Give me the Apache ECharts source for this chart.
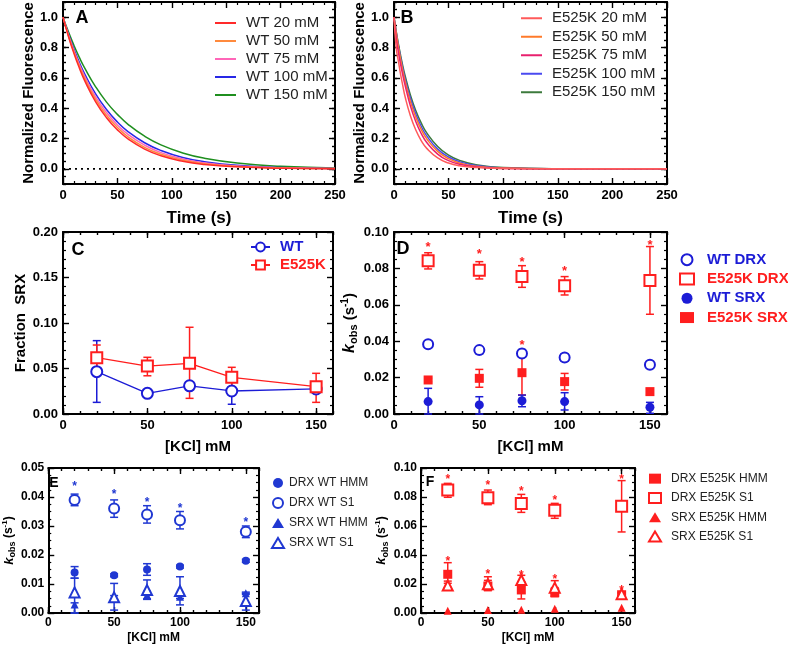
<!DOCTYPE html>
<html><head><meta charset="utf-8">
<script src="https://cdn.jsdelivr.net/npm/echarts@6/dist/echarts.min.js"></script>
<style>html,body{margin:0;padding:0;background:#fff}#c{width:788px;height:646px}</style>
</head><body><div id="c"></div>
<script>
// ---------- DATA ----------
const timeA = [0, 5, 10, 15, 20, 30, 40, 50, 60, 75, 90, 110, 130, 160, 200, 250];
const wt20  = [1.0, 0.873, 0.762, 0.665, 0.580, 0.442, 0.337, 0.257, 0.196, 0.130, 0.086, 0.050, 0.029, 0.013, 0.004, 0.001];
const wt50  = [1.0, 0.878, 0.771, 0.677, 0.595, 0.458, 0.353, 0.273, 0.210, 0.142, 0.096, 0.057, 0.034, 0.016, 0.006, 0.002];
const wt75  = [1.0, 0.883, 0.780, 0.689, 0.609, 0.475, 0.371, 0.289, 0.226, 0.156, 0.107, 0.065, 0.040, 0.019, 0.007, 0.002];
const wt100 = [1.0, 0.889, 0.791, 0.703, 0.625, 0.494, 0.391, 0.309, 0.244, 0.172, 0.121, 0.075, 0.047, 0.023, 0.009, 0.003];
const wt150 = [1.0, 0.903, 0.815, 0.735, 0.664, 0.541, 0.440, 0.359, 0.292, 0.215, 0.158, 0.105, 0.070, 0.038, 0.017, 0.006];

const timeB = [0, 2, 4, 6, 8, 10, 15, 20, 25, 30, 40, 50, 60, 75, 100, 150, 250];
const ek20  = [1.0, 0.80, 0.71, 0.625, 0.55, 0.48, 0.35, 0.255, 0.185, 0.135, 0.072, 0.038, 0.020, 0.008, 0.002, 0, 0];
const ek50  = [1.0, 0.898, 0.806, 0.723, 0.649, 0.583, 0.445, 0.340, 0.259, 0.198, 0.115, 0.067, 0.039, 0.017, 0.005, 0.001, 0];
const ek75  = [1.0, 0.86, 0.77, 0.69, 0.62, 0.555, 0.415, 0.31, 0.232, 0.174, 0.097, 0.054, 0.030, 0.013, 0.003, 0, 0];
const ek100 = [1.0, 0.903, 0.815, 0.736, 0.665, 0.600, 0.465, 0.361, 0.279, 0.217, 0.130, 0.078, 0.047, 0.022, 0.006, 0.001, 0];
const ek150 = [1.0, 0.908, 0.825, 0.750, 0.681, 0.619, 0.487, 0.383, 0.301, 0.237, 0.147, 0.091, 0.056, 0.027, 0.008, 0.001, 0];

const kcl = [20, 50, 75, 100, 150];

// Panel C: fraction SRX
const cWT      = [0.0465, 0.0227, 0.031, 0.0253, 0.0275];
const cWTlo    = [0.0128, 0.0197, 0.028, 0.0107, 0.0255];
const cWThi    = [0.0806, 0.0257, 0.034, 0.0399, 0.0295];
const cEK      = [0.0619, 0.0527, 0.0557, 0.0403, 0.030];
const cEKlo    = [0.0484, 0.042, 0.0172, 0.030, 0.0128];
const cEKhi    = [0.0758, 0.0623, 0.0953, 0.0513, 0.0447];

// Panel D: kobs
const dEKdrx   = [0.0842, 0.079, 0.0755, 0.0705, 0.0733];
const dEKdrxLo = [0.0797, 0.0742, 0.0696, 0.0654, 0.0548];
const dEKdrxHi = [0.0886, 0.0837, 0.0815, 0.0755, 0.092];
const dWTdrx   = [0.0383, 0.0351, 0.0333, 0.0311, 0.027];
const dWTdrxLo = [0.0376, 0.0332, 0.0312, 0.0292, 0.0256];
const dWTdrxHi = [0.039, 0.037, 0.0354, 0.033, 0.0284];
const dEKsrx   = [0.0187, 0.0196, 0.0227, 0.0178, 0.0123];
const dEKsrxLo = [0.0177, 0.0147, 0.0104, 0.0132, 0.0108];
const dEKsrxHi = [0.0197, 0.0245, 0.0333, 0.0223, 0.0138];
const dWTsrx   = [0.0068, 0.005, 0.0073, 0.0068, 0.0037];
const dWTsrxLo = [0.0, 0.0, 0.004, 0.0022, 0.0004];
const dWTsrxHi = [0.0141, 0.0095, 0.0104, 0.0117, 0.0064];
const dStarX   = [20, 50, 75, 100, 150, 75];
const dStarY   = [0.093, 0.089, 0.085, 0.080, 0.094, 0.039];

// Panel E: WT HMM vs S1
const eDrxS1   = [0.039, 0.036, 0.034, 0.032, 0.028];
const eDrxS1Lo = [0.037, 0.033, 0.031, 0.029, 0.026];
const eDrxS1Hi = [0.041, 0.039, 0.037, 0.035, 0.030];
const eDrxHMM  = [0.014, 0.013, 0.015, 0.016, 0.018];
const eDrxHMMLo= [0.012, 0.0125, 0.013, 0.0155, 0.0175];
const eDrxHMMHi= [0.016, 0.0135, 0.017, 0.0165, 0.0185];
const eSrxS1   = [0.0071, 0.0054, 0.0079, 0.0076, 0.0041];
const eSrxS1Lo = [0.0, 0.001, 0.0047, 0.0028, 0.001];
const eSrxS1Hi = [0.012, 0.0102, 0.0114, 0.0125, 0.0068];
const eSrxHMM  = [0.0029, 0.0052, 0.0062, 0.0056, 0.0068];
const eSrxHMMLo= [0.0, 0.0047, 0.0048, 0.005, 0.0064];
const eSrxHMMHi= [0.0035, 0.006, 0.0075, 0.006, 0.0072];
const eStarY   = [0.0444, 0.0416, 0.039, 0.037, 0.032];

// Panel F: E525K HMM vs S1
const fDrxS1   = [0.0848, 0.0795, 0.0756, 0.0708, 0.0736];
const fDrxS1Lo = [0.0798, 0.0747, 0.0694, 0.0653, 0.0559];
const fDrxS1Hi = [0.0894, 0.0848, 0.0818, 0.0756, 0.0913];
const fDrxHMM  = [0.0267, 0.0186, 0.0159, 0.014, 0.0126];
const fDrxHMMLo= [0.022, 0.0154, 0.0097, 0.0113, 0.0115];
const fDrxHMMHi= [0.0347, 0.025, 0.0216, 0.0175, 0.0137];
const fSrxS1   = [0.0189, 0.0198, 0.0228, 0.0175, 0.013];
const fSrxS1Lo = [0.0175, 0.017, 0.021, 0.0136, 0.012];
const fSrxS1Hi = [0.0205, 0.0225, 0.026, 0.0223, 0.014];
const fSrxHMM  = [0.0016, 0.002, 0.0023, 0.003, 0.0037];
const fStarX   = [20, 50, 75, 100, 150, 20, 50, 75, 100, 150];
const fStarY   = [0.0936, 0.0894, 0.0853, 0.0795, 0.0936, 0.0372, 0.0283, 0.0274, 0.025, 0.0175];

// ---------- BUILD ----------
const FONT = "'Liberation Sans', Arial, Helvetica, sans-serif";
const grids = [], xAxes = [], yAxes = [];

function axisSet(list, gi, dim, s) {
  const posMain = dim === 'x' ? 'bottom' : 'left';
  const posMir = dim === 'x' ? 'top' : 'right';
  const mk = (pos, labels, tickLen, custom) => {
    const a = {
      type: 'value', gridIndex: gi, position: pos, min: s.min, max: s.max, interval: s.interval,
      axisLine: { show: custom == null, onZero: false, lineStyle: { color: '#000', width: 2 } },
      axisTick: { show: true, inside: true, length: tickLen, lineStyle: { color: '#000', width: 1.4 } },
      minorTick: { show: !!s.minor && custom == null, splitNumber: s.minor || 5, length: 3, lineStyle: { color: '#000', width: 1.2 } },
      splitLine: { show: false }, minorSplitLine: { show: false },
      axisLabel: Object.assign({ show: labels, formatter: s.fmt, color: '#000', fontFamily: FONT, fontWeight: 'bold' }, s.label),
      silent: true
    };
    if (custom) a.axisTick.customValues = custom;
    if (labels && s.name) Object.assign(a, { name: s.name, nameLocation: 'middle', nameGap: s.nameGap, nameTextStyle: s.nameStyle });
    list.push(a);
    return list.length - 1;
  };
  const idx = mk(posMain, true, s.major ? 3 : 6, null);
  if (s.major) mk(posMain, false, 6, s.major);
  mk(posMir, false, s.major ? 3 : 6, null);
  if (s.major) mk(posMir, false, 6, s.major);
  return idx;
}
function panel(g, xs, ys) {
  const gi = grids.length;
  grids.push({ left: g[0], top: g[1], width: g[2], height: g[3] });
  return { gi, x: axisSet(xAxes, gi, 'x', xs), y: axisSet(yAxes, gi, 'y', ys) };
}

const L13 = { fontSize: 13, margin: 5 };
const L12 = { fontSize: 12, margin: 4 };
const fmtA = v => { const r = Math.round(v * 100); return (r >= 0 && r <= 100 && r % 20 === 0) ? (r / 100).toFixed(1) : ''; };
const fmtK = v => { const r = Math.round(v); return (r % 50 === 0 && r <= 150) ? String(r) : ''; };
const fmt2 = v => v.toFixed(2);
const nameB = sz => ({ fontSize: sz, fontWeight: 'bold', color: '#000', fontFamily: FONT });
const kName = '{k|k}{s|obs}{t| (s}{p|-1}{t|)}';
const kRich = (k, t, s, p, lh) => ({
  fontWeight: 'bold', color: '#000', fontFamily: FONT, fontSize: t,
  rich: {
    k: { fontStyle: 'italic', fontWeight: 'bold', fontSize: k, lineHeight: lh, fontFamily: FONT },
    t: { fontWeight: 'bold', fontSize: t, lineHeight: lh, fontFamily: FONT },
    s: { fontWeight: 'bold', fontSize: s, lineHeight: s, verticalAlign: 'bottom', fontFamily: FONT },
    p: { fontWeight: 'bold', fontSize: p, lineHeight: p, verticalAlign: 'top', fontFamily: FONT }
  }
});
const kclMajor = [0, 50, 100, 150];
const timeAx = { min: 0, max: 250, interval: 50, minor: 5, fmt: v => String(v), label: L13, name: 'Time (s)', nameGap: 26, nameStyle: nameB(17) };
const fluoAx = (gap) => ({ min: -0.1, max: 1.1, interval: 0.05, major: [0, 0.2, 0.4, 0.6, 0.8, 1.0], fmt: fmtA, label: L13, name: 'Normalized Fluorescence', nameGap: gap, nameStyle: nameB(15) });
const kclAx = (lab, sz, gap) => ({ min: 0, max: 160, interval: 10, major: kclMajor, fmt: fmtK, label: lab, name: '[KCl] mM', nameGap: gap, nameStyle: nameB(sz) });

const pA = panel([63, 2, 272, 182], timeAx, fluoAx(24));
const pB = panel([394, 2, 273, 182], timeAx, fluoAx(24));
const pC = panel([63, 232, 270, 182], kclAx(L13, 15, 25),
  { min: 0, max: 0.2, interval: 0.05, minor: 5, fmt: fmt2, label: L13, name: 'Fraction  SRX', nameGap: 35, nameStyle: nameB(15) });
const pD = panel([394, 232, 273, 182], kclAx(L13, 15, 25),
  { min: 0, max: 0.1, interval: 0.02, minor: 4, fmt: fmt2, label: L13, name: kName, nameGap: 27, nameStyle: kRich(16, 15, 11, 10, 20) });
const pE = panel([42, 468, 217, 145], kclAx(L12, 12, 19),
  { min: 0, max: 0.05, interval: 0.01, minor: 4, fmt: fmt2, label: L12, name: kName, nameGap: 24, nameStyle: kRich(13, 12, 9, 8, 16) });
const pF = panel([421, 468, 214, 145], kclAx(L12, 12, 19),
  { min: 0, max: 0.1, interval: 0.02, minor: 4, fmt: fmt2, label: L12, name: kName, nameGap: 25, nameStyle: kRich(13, 12, 9, 8, 16) });

const zip = (xs, ys) => xs.map((x, i) => [x, ys[i]]);
function curve(name, p, xs, ys, color) {
  return { name, type: 'line', xAxisIndex: p.x, yAxisIndex: p.y, data: zip(xs, ys), symbol: 'none', showSymbol: false,
    smooth: 0.5, lineStyle: { color, width: 1.5 }, itemStyle: { color }, z: 3, silent: true };
}
function zeroLine(p) {
  return { name: 'zero' + p.gi, type: 'line', xAxisIndex: p.x, yAxisIndex: p.y, data: [[0, 0], [250, 0]], symbol: 'none',
    lineStyle: { color: '#000', width: 1.6, type: [2, 4] }, z: 2, silent: true };
}
function pts(name, p, ys, color, symbol, size, bw) {
  return { name, type: 'scatter', xAxisIndex: p.x, yAxisIndex: p.y, data: zip(kcl, ys), symbol, symbolSize: size,
    itemStyle: { color, borderColor: color, borderWidth: bw || 0, opacity: 1 }, z: 5, silent: true };
}
function err(name, p, lo, hi, color, cap) {
  return { name, type: 'custom', xAxisIndex: p.x, yAxisIndex: p.y, silent: true, z: 4,
    data: kcl.map((x, i) => [x, lo[i], hi[i]]),
    renderItem: (params, api) => {
      const a = api.coord([api.value(0), api.value(1)]), b = api.coord([api.value(0), api.value(2)]);
      const st = { stroke: color, lineWidth: 1.5 };
      return { type: 'group', children: [
        { type: 'line', shape: { x1: a[0], y1: a[1], x2: b[0], y2: b[1] }, style: st },
        { type: 'line', shape: { x1: a[0] - cap, y1: a[1], x2: a[0] + cap, y2: a[1] }, style: st },
        { type: 'line', shape: { x1: b[0] - cap, y1: b[1], x2: b[0] + cap, y2: b[1] }, style: st }
      ] };
    } };
}
function stars(name, p, xs, ys, color, size) {
  return { name, type: 'custom', xAxisIndex: p.x, yAxisIndex: p.y, silent: true, z: 6,
    data: zip(xs, ys),
    renderItem: (params, api) => {
      const c = api.coord([api.value(0), api.value(1)]);
      return { type: 'text', x: c[0], y: c[1] + size * 0.22,
        style: { text: '*', fill: color, fontSize: size, fontWeight: 'bold', fontFamily: FONT, align: 'center', verticalAlign: 'middle' } };
    } };
}

const BLUE = '#1c1cd6', RED = '#ff1e1e', EBLUE = '#2038d2';
const colA = ['#ff2a2a', '#ff8a3d', '#ff66b8', '#2828e6', '#1f8f1f'];
const colB = ['#ff5a5a', '#ff7a2a', '#e8206e', '#4a4af0', '#3c7a3c'];
const namesA = ['WT 20 mM', 'WT 50 mM', 'WT 75 mM', 'WT 100 mM', 'WT 150 mM'];
const namesB = ['E525K 20 mM', 'E525K 50 mM', 'E525K 75 mM', 'E525K 100 mM', 'E525K 150 mM'];
const seriesA = [wt20, wt50, wt75, wt100, wt150];
const seriesB = [ek20, ek50, ek75, ek100, ek150];

const series = [];
series.push(zeroLine(pA), zeroLine(pB));
[4, 3, 2, 1, 0].forEach(i => series.push(curve(namesA[i], pA, timeA, seriesA[i], colA[i])));
[4, 3, 1, 2, 0].forEach(i => series.push(curve(namesB[i], pB, timeB, seriesB[i], colB[i])));

// C
series.push(err('errCwt', pC, cWTlo, cWThi, BLUE, 4), err('errCek', pC, cEKlo, cEKhi, RED, 4));
series.push({ name: 'WT', type: 'line', xAxisIndex: pC.x, yAxisIndex: pC.y, data: zip(kcl, cWT), symbol: 'emptyCircle', symbolSize: 11,
  showSymbol: true, lineStyle: { color: BLUE, width: 1.3 }, itemStyle: { color: BLUE, borderWidth: 2 }, z: 5, silent: true });
series.push({ name: 'E525K', type: 'line', xAxisIndex: pC.x, yAxisIndex: pC.y, data: zip(kcl, cEK), symbol: 'emptyRect', symbolSize: 11,
  showSymbol: true, lineStyle: { color: RED, width: 1.3 }, itemStyle: { color: RED, borderWidth: 2 }, z: 5, silent: true });

// D
series.push(err('errD1', pD, dEKdrxLo, dEKdrxHi, RED, 4), err('errD2', pD, dWTdrxLo, dWTdrxHi, BLUE, 4),
  err('errD3', pD, dEKsrxLo, dEKsrxHi, RED, 4), err('errD4', pD, dWTsrxLo, dWTsrxHi, BLUE, 4));
series.push(pts('WT DRX', pD, dWTdrx, BLUE, 'emptyCircle', 10, 2));
series.push(pts('E525K DRX', pD, dEKdrx, RED, 'emptyRect', 11, 2));
series.push(pts('WT SRX', pD, dWTsrx, BLUE, 'circle', 9));
series.push(pts('E525K SRX', pD, dEKsrx, RED, 'rect', 9));
series.push(stars('starD', pD, dStarX, dStarY, RED, 13));

// E
series.push(err('errE1', pE, eDrxS1Lo, eDrxS1Hi, EBLUE, 4), err('errE2', pE, eDrxHMMLo, eDrxHMMHi, EBLUE, 4),
  err('errE3', pE, eSrxS1Lo, eSrxS1Hi, EBLUE, 4), err('errE4', pE, eSrxHMMLo, eSrxHMMHi, EBLUE, 4));
series.push(pts('DRX WT HMM', pE, eDrxHMM, EBLUE, 'circle', 8));
series.push(pts('DRX WT S1', pE, eDrxS1, EBLUE, 'emptyCircle', 10, 1.8));
series.push(pts('SRX WT HMM', pE, eSrxHMM, EBLUE, 'triangle', 8));
series.push(pts('SRX WT S1', pE, eSrxS1, EBLUE, 'emptyTriangle', 10, 1.8));
series.push(stars('starE', pE, kcl, eStarY, EBLUE, 12));

// F
series.push(err('errF1', pF, fDrxS1Lo, fDrxS1Hi, RED, 4), err('errF2', pF, fDrxHMMLo, fDrxHMMHi, RED, 4),
  err('errF3', pF, fSrxS1Lo, fSrxS1Hi, RED, 4));
series.push(pts('DRX E525K HMM', pF, fDrxHMM, RED, 'rect', 9));
series.push(pts('DRX E525K S1', pF, fDrxS1, RED, 'emptyRect', 11, 1.8));
series.push(pts('SRX E525K HMM', pF, fSrxHMM, RED, 'triangle', 8));
series.push(pts('SRX E525K S1', pF, fSrxS1, RED, 'emptyTriangle', 10, 1.8));
series.push(stars('starF', pF, fStarX, fStarY, RED, 12));

const legBase = { orient: 'vertical', padding: 0, itemGap: 0, selectedMode: false };
const legends = [
  Object.assign({}, legBase, { left: 215, top: 14, itemWidth: 21, itemHeight: 2, icon: 'rect', data: namesA,
    textStyle: { fontSize: 15, color: '#222', fontFamily: FONT, lineHeight: 18, padding: [0, 0, 0, 5] } }),
  Object.assign({}, legBase, { left: 521, top: 9, itemWidth: 21, itemHeight: 2, icon: 'rect', data: namesB,
    textStyle: { fontSize: 15, color: '#222', fontFamily: FONT, lineHeight: 18.5, padding: [0, 0, 0, 5] } }),
  Object.assign({}, legBase, { left: 250, top: 238, itemWidth: 19, itemHeight: 11,
    data: [{ name: 'WT', textStyle: { color: BLUE } }, { name: 'E525K', textStyle: { color: RED } }],
    textStyle: { fontSize: 15, fontWeight: 'bold', fontFamily: FONT, lineHeight: 18, padding: [0, 0, 0, 5] } }),
  Object.assign({}, legBase, { left: 679, top: 250, itemWidth: 14, itemHeight: 11,
    data: [{ name: 'WT DRX', textStyle: { color: BLUE } }, { name: 'E525K DRX', textStyle: { color: RED } },
           { name: 'WT SRX', textStyle: { color: BLUE } }, { name: 'E525K SRX', textStyle: { color: RED } }],
    textStyle: { fontSize: 15, fontWeight: 'bold', fontFamily: FONT, lineHeight: 19.3, padding: [0, 0, 0, 8] } }),
  Object.assign({}, legBase, { left: 271, top: 473, itemWidth: 12, itemHeight: 10,
    data: ['DRX WT HMM', 'DRX WT S1', 'SRX WT HMM', 'SRX WT S1'],
    textStyle: { fontSize: 12, color: '#222', fontFamily: FONT, lineHeight: 20 } }),
  Object.assign({}, legBase, { left: 648, top: 469, itemWidth: 12, itemHeight: 10,
    data: ['DRX E525K HMM', 'DRX E525K S1', 'SRX E525K HMM', 'SRX E525K S1'],
    textStyle: { fontSize: 12, color: '#222', fontFamily: FONT, lineHeight: 19.3, padding: [0, 0, 0, 5] } })
];

const letters = [['A', 82, 18, 18], ['B', 407, 18, 18], ['C', 78, 250, 18], ['D', 403, 249, 18], ['E', 54, 483, 14], ['F', 430, 482, 14]];
const graphic = letters.map(l => ({ type: 'text', x: l[1], y: l[2], silent: true, z: 10,
  style: { text: l[0], fontSize: l[3], fontWeight: 'bold', fontFamily: FONT, fill: '#000', align: 'center', verticalAlign: 'middle' } }));

const chart = echarts.init(document.getElementById('c'), null, { renderer: 'canvas' });
chart.setOption({
  animation: false,
  backgroundColor: '#fff',
  textStyle: { fontFamily: FONT },
  grid: grids, xAxis: xAxes, yAxis: yAxes,
  legend: legends, series, graphic
});
</script></body></html>
